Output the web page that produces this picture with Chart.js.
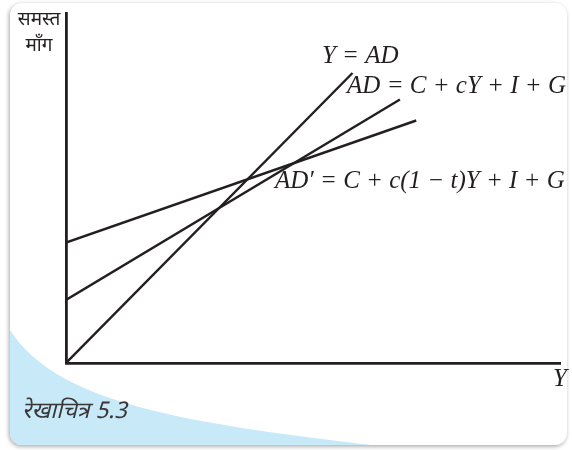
<!DOCTYPE html>
<html>
<head>
<meta charset="utf-8">
<script src="https://cdn.jsdelivr.net/npm/chart.js@4"></script>
<style>
  html, body { margin: 0; padding: 0; background: #fff; }
  #wrap { position: relative; width: 572px; height: 450px; }
</style>
</head>
<body>
<div id="wrap"><canvas id="chart" width="572" height="450"></canvas></div>
<script>
// line endpoints (x = income Y, y = aggregate demand)
const lineNames = ['Y = AD', 'AD = C + cY + I + G', 'AD\u2032 = C + c(1 \u2212 t)Y + I + G']
const lineX = [[0, 58], [0, 67.6], [0, 70.9]]
const lineY = [[0, 58], [12.6, 52.7], [24.1, 48.5]]
// where each label sits, in data units
const labelX = [51.8, 56.9, 42.3]
const labelY = [61.4, 55.4, 36.3]

const yTitle = ['समस्त', 'माँग']
const xTitle = 'Y'
const caption = 'रेखाचित्र 5.3'

const ink = '#231f20'
const deva = '"Noto Sans Devanagari", "Noto Sans", "Lohit Devanagari", sans-serif'
const serif = '"Liberation Serif", "DejaVu Serif", serif'

const datasets = lineNames.map((name, i) => ({
  label: name,
  data: lineX[i].map((x, j) => ({ x, y: lineY[i][j] })),
  showLine: true,
  borderColor: ink,
  borderWidth: 2.4,
  pointRadius: 0,
  fill: false
}))

const cardPlugin = {
  id: 'card',
  beforeDraw: (chart) => {
    const ctx = chart.ctx
    ctx.save()
    // card outline with soft shadow
    ctx.shadowColor = 'rgba(0,0,0,0.35)'
    ctx.shadowBlur = 4
    ctx.shadowOffsetX = -1
    ctx.shadowOffsetY = 1.5
    ctx.beginPath()
    ctx.roundRect(10, 3, 557, 442, 12)
    ctx.fillStyle = '#fff'
    ctx.fill()
    ctx.restore()

    // light blue sweep in the lower-left corner
    ctx.save()
    ctx.beginPath()
    ctx.roundRect(10, 3, 557, 442, 12)
    ctx.clip()
    ctx.beginPath()
    ctx.moveTo(10, 330)
    ctx.bezierCurveTo(55, 400, 170, 422, 380, 446)
    ctx.lineTo(10, 446)
    ctx.closePath()
    ctx.fillStyle = '#c7e9f8'
    ctx.fill()
    ctx.restore()
  },
  afterDraw: (chart) => {
    const ctx = chart.ctx
    const { x, y } = chart.scales
    ctx.save()
    ctx.fillStyle = ink
    ctx.textBaseline = 'middle'
    ctx.font = 'italic 25px ' + serif
    ctx.textAlign = 'left'
    lineNames.forEach((name, i) => {
      ctx.fillText(name, x.getPixelForValue(labelX[i]), y.getPixelForValue(labelY[i]))
    })
    ctx.textAlign = 'right'
    ctx.fillText(xTitle, 567, 379)

    ctx.font = '19px ' + deva
    ctx.textAlign = 'center'
    ctx.fillText(yTitle[0], 39, 21)
    ctx.fillText(yTitle[1], 39, 47)

    ctx.font = 'italic 23px ' + deva
    ctx.textAlign = 'left'
    ctx.fillStyle = '#3a3536'
    ctx.fillText(caption, 22, 414)
    ctx.restore()
  }
}

new Chart(document.getElementById('chart'), {
  type: 'scatter',
  data: { datasets },
  options: {
    responsive: false,
    animation: false,
    layout: { padding: { left: 58, top: 13, right: 12, bottom: 79 } },
    plugins: { legend: { display: false }, tooltip: { enabled: false } },
    scales: {
      x: {
        type: 'linear',
        min: 0,
        max: 100,
        grid: { display: false },
        ticks: { display: false },
        border: { display: true, color: ink, width: 2.8 }
      },
      y: {
        type: 'linear',
        min: 0,
        max: 70,
        grid: { display: false },
        ticks: { display: false },
        border: { display: true, color: ink, width: 2.8 }
      }
    }
  },
  plugins: [cardPlugin]
})
</script>
</body>
</html>
